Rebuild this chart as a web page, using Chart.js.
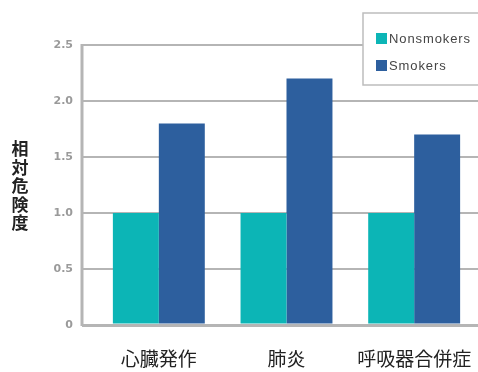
<!DOCTYPE html>
<html>
<head>
<meta charset="utf-8">
<script src="https://cdn.jsdelivr.net/npm/chart.js@4"></script>
<style>
  html, body { margin: 0; padding: 0; background: #fff; }
  #wrap { width: 478px; height: 372px; }
</style>
</head>
<body>
<div id="wrap"><canvas id="c" width="478" height="372"></canvas></div>
<script>
const categories = ['心臓発作', '肺炎', '呼吸器合併症'];
const nonsmokers = [1.0, 1.0, 1.0];
const smokers = [1.8, 2.2, 1.7];
const yTicks = [0, 0.5, 1.0, 1.5, 2.0, 2.5];
const yTitle = '相対危険度';

const TEAL = '#0cb5b6';
const BLUE = '#2d5f9e';
const GRID = '#b5b5b5';
const TICK_LEN = 13;

// vertical axis line, stacked title and the boxed legend
const extras = {
  id: 'extras',
  afterDraw(chart) {
    const ctx = chart.ctx;
    const y = chart.scales.y;
    const axisX = chart.chartArea.left - TICK_LEN;
    ctx.save();
    ctx.strokeStyle = GRID;
    ctx.lineWidth = 3;
    ctx.beginPath();
    ctx.moveTo(axisX, y.getPixelForValue(2.5) - 1);
    ctx.lineTo(axisX, y.getPixelForValue(0) + 1);
    ctx.stroke();

    ctx.fillStyle = '#222';
    ctx.font = 'bold 17px "Noto Sans CJK JP"';
    ctx.textAlign = 'center';
    ctx.textBaseline = 'middle';
    const chars = [...yTitle];
    const step = 18.5;
    const mid = 186;
    chars.forEach((ch, i) => {
      ctx.fillText(ch, 20, mid + (i - (chars.length - 1) / 2) * step);
    });

    // legend
    ctx.fillStyle = '#fff';
    ctx.fillRect(363, 13, 120, 72);
    ctx.strokeStyle = '#bdbdbd';
    ctx.lineWidth = 1.5;
    ctx.strokeRect(363, 13, 120, 72);
    ctx.font = '13px "Liberation Sans"';
    ctx.letterSpacing = '0.9px';
    ctx.textAlign = 'left';
    chart.data.datasets.forEach((ds, i) => {
      const ly = 38 + i * 27;
      ctx.fillStyle = ds.backgroundColor;
      ctx.fillRect(376, ly - 5, 11, 11);
      ctx.fillStyle = '#454545';
      ctx.fillText(ds.label, 389, ly + 1);
    });
    ctx.restore();
  }
};

new Chart(document.getElementById('c'), {
  type: 'bar',
  data: {
    labels: categories,
    datasets: [
      { label: 'Nonsmokers', data: nonsmokers, backgroundColor: TEAL },
      { label: 'Smokers', data: smokers, backgroundColor: BLUE }
    ]
  },
  options: {
    responsive: false,
    animation: false,
    layout: { padding: { top: 45, right: 0, left: 0, bottom: 0 } },
    plugins: { legend: { display: false }, tooltip: { enabled: false } },
    datasets: { bar: { barPercentage: 1, categoryPercentage: 0.72 } },
    scales: {
      x: {
        afterFit(s) { s.height = 47; s.paddingRight = 0; s.paddingLeft = 0; },
        grid: { display: false },
        border: { display: false },
        ticks: { color: '#222', font: { size: 19, family: '"Noto Sans CJK JP"' }, padding: 14 }
      },
      y: {
        min: 0,
        max: 2.5,
        afterFit(s) { s.width = 95; },
        afterBuildTicks(s) { s.ticks = yTicks.map(v => ({ value: v })); },
        border: { display: false },
        grid: {
          color: GRID,
          lineWidth: c => (c.tick && c.tick.value === 0 ? 3 : 2),
          tickLength: TICK_LEN,
          drawTicks: true
        },
        ticks: {
          color: '#9a9a9a',
          padding: 9,
          font: { size: 11, weight: 'bold', family: '"DejaVu Sans"' },
          callback: v => (v === 0 ? '0' : Number(v).toFixed(1))
        }
      }
    }
  },
  plugins: [extras]
});
</script>
</body>
</html>
